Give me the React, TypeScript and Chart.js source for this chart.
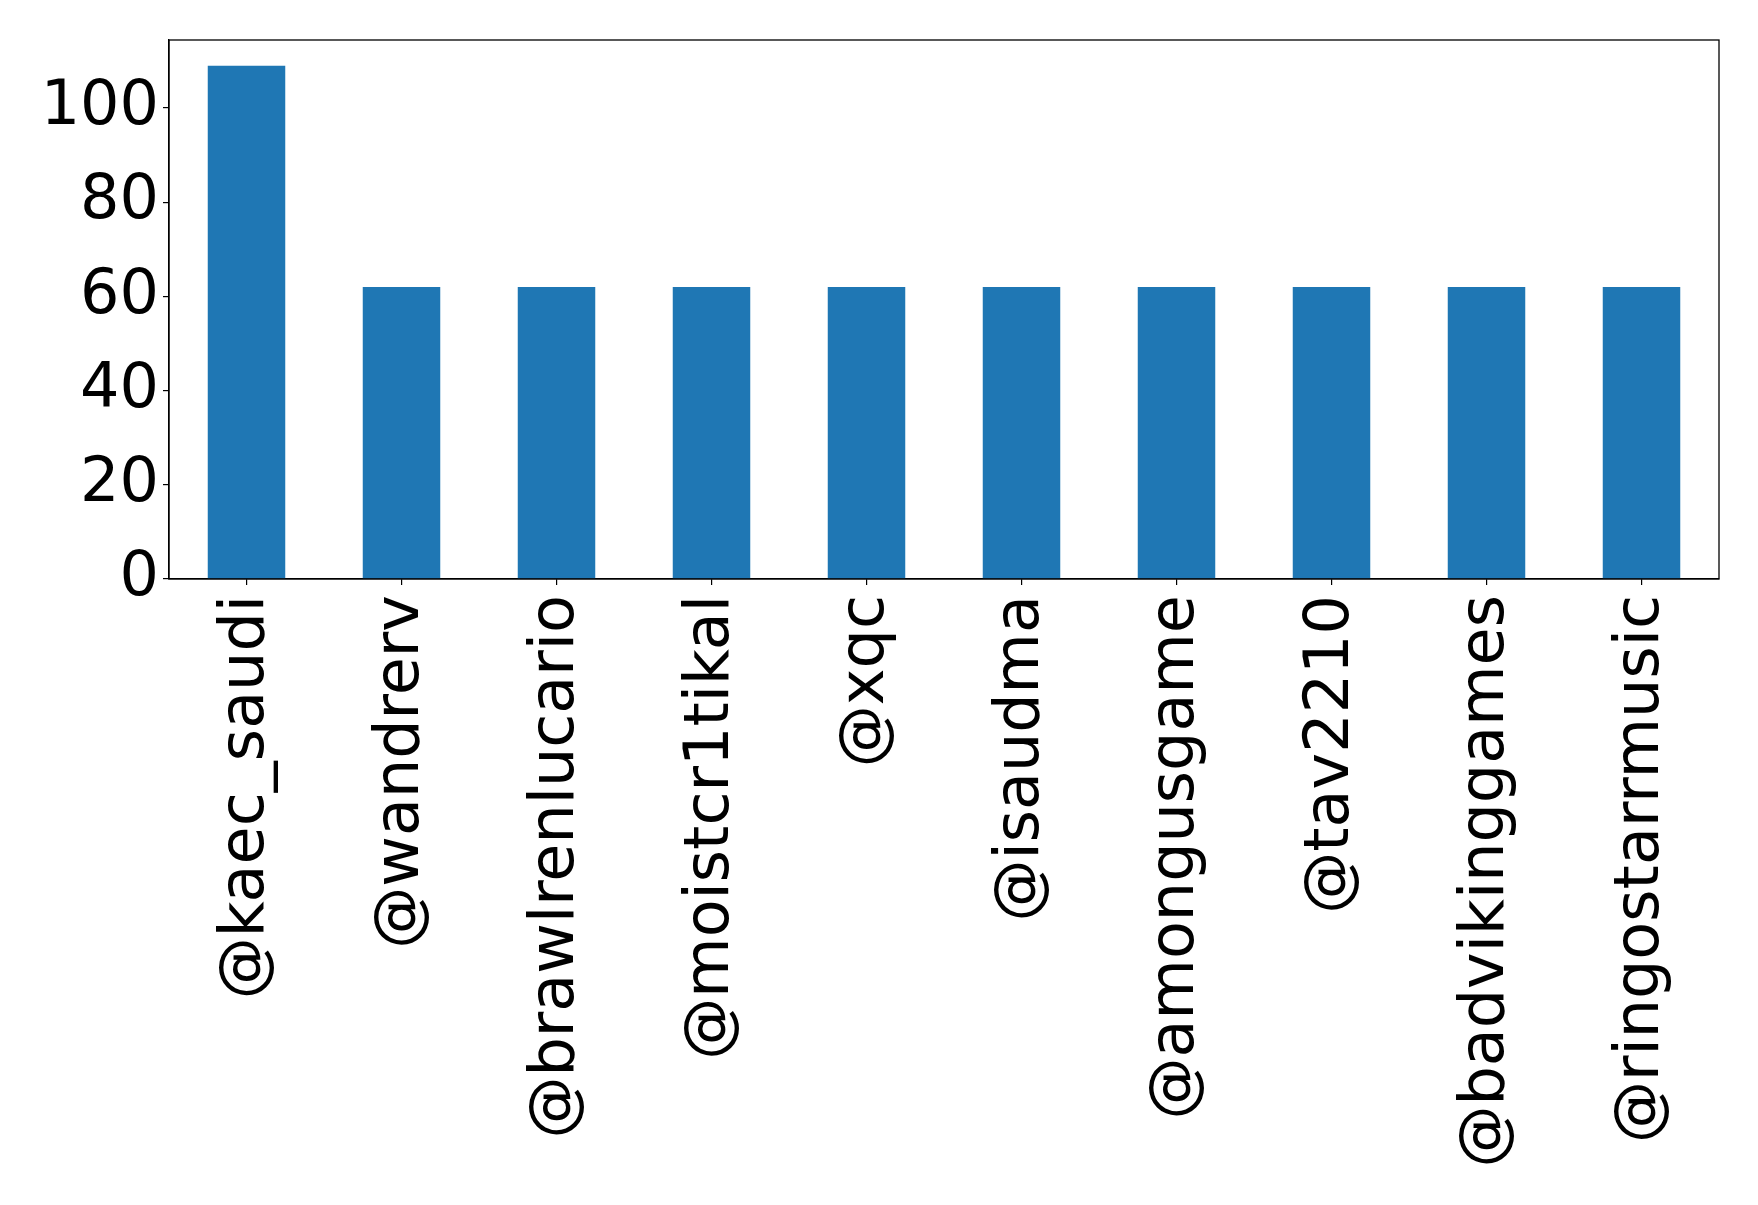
import React, { useEffect, useRef } from "react";
import { Chart, registerables } from "chart.js";

Chart.register(...registerables);

const categories = [
  "@kaec_saudi",
  "@wandrerv",
  "@brawlrenlucario",
  "@moistcr1tikal",
  "@xqc",
  "@isaudma",
  "@amongusgame",
  "@tav2210",
  "@badvikinggames",
  "@ringostarrmusic",
];
const counts = [109, 62, 62, 62, 62, 62, 62, 62, 62, 62];
const yTicks = [0, 20, 40, 60, 80, 100];

const W = 1758;
const H = 1205;
const PLOT_LEFT = 169;
const PLOT_TOP = 40;
const PLOT_RIGHT = 1719;
const PLOT_BOTTOM = 579;

const frame = {
  id: "frame",
  afterDraw(chart: any) {
    const { ctx, chartArea } = chart;
    ctx.save();
    ctx.strokeStyle = "#000";
    ctx.lineWidth = 1.3;
    ctx.strokeRect(chartArea.left, chartArea.top, chartArea.right - chartArea.left, chartArea.bottom - chartArea.top);
    ctx.restore();
  },
};

export default function App() {
  const ref = useRef<HTMLCanvasElement | null>(null);
  useEffect(() => {
    document.body.style.margin = "0";
    const font = { family: "'DejaVu Sans'", size: 62 };
    const chart = new Chart(ref.current as HTMLCanvasElement, {
      type: "bar",
      data: {
        labels: categories,
        datasets: [
          {
            data: counts,
            backgroundColor: "#1f77b4",
            borderWidth: 0,
            categoryPercentage: 1,
            barPercentage: 0.5,
          },
        ],
      },
      plugins: [frame],
      options: {
        responsive: false,
        animation: false,
        devicePixelRatio: 1,
        layout: { padding: { top: PLOT_TOP, right: W - PLOT_RIGHT, left: 0, bottom: 0 } },
        plugins: { legend: { display: false }, tooltip: { enabled: false } },
        scales: {
          x: {
            offset: true,
            grid: { offset: false, drawOnChartArea: false, drawTicks: true, tickLength: 6, color: "#000", lineWidth: 1.2 },
            border: { display: true, color: "#000", width: 1.3 },
            ticks: {
              color: "#000",
              font,
              minRotation: 90,
              maxRotation: 90,
              autoSkip: false,
              padding: 10,
            },
            afterFit(scale: any) {
              scale.height = H - PLOT_BOTTOM;
            },
          },
          y: {
            min: 0,
            max: 114.45,
            grid: { drawOnChartArea: false, drawTicks: true, tickLength: 6, color: "#000", lineWidth: 1.2 },
            border: { display: true, color: "#000", width: 1.3 },
            ticks: {
              color: "#000",
              font,
              stepSize: 20,
              includeBounds: false,
              padding: 4,
            },
            afterBuildTicks(scale: any) {
              scale.ticks = yTicks.map((v) => ({ value: v }));
            },
            afterFit(scale: any) {
              scale.width = PLOT_LEFT;
              scale.paddingTop = 0;
              scale.paddingBottom = 0;
            },
          },
        },
      },
    });
    return () => chart.destroy();
  }, []);
  return (
    <div style={{ position: "absolute", left: 0, top: 0, width: W, height: H, background: "#fff" }}>
      <canvas ref={ref} width={W} height={H} style={{ width: W, height: H }} />
    </div>
  );
}
